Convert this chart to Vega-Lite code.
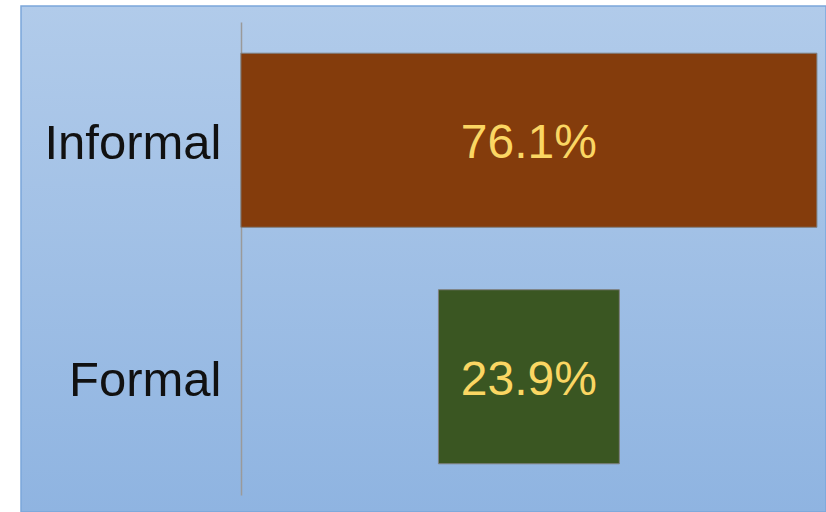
{
  "$schema": "https://vega.github.io/schema/vega-lite/v6.json",
  "autosize": {"type": "none"},
  "padding": {"left": 21, "top": 6, "right": 0, "bottom": 0},
  "width": 805,
  "height": 506,
  "background": "#ffffff",
  "config": {
    "view": {
      "fill": {"gradient": "linear", "x1": 0, "y1": 0, "x2": 0, "y2": 1, "stops": [{"offset": 0, "color": "#b1cbea"}, {"offset": 1, "color": "#8fb4e1"}]},
      "stroke": "#7ba6da",
      "strokeWidth": 1.5
    },
    "font": "Liberation Sans"
  },
  "data": {"values": [
    {"sector": "Informal", "share": 76.1, "label": "76.1%"},
    {"sector": "Formal", "share": 23.9, "label": "23.9%"}
  ]},
  "encoding": {
    "y": {
      "field": "sector", "type": "nominal", "sort": ["Informal", "Formal"],
      "scale": {"range": [16, 489], "paddingInner": 0.264, "paddingOuter": 0.132},
      "axis": {"title": null, "offset": -220, "ticks": false, "domainColor": "#9a9a9a", "domainWidth": 1.5, "labelFontSize": 49, "labelColor": "#111111", "labelPadding": 20, "labelOffset": 4, "labelLimit": 0, "labelFont": "Liberation Sans"}
    }
  },
  "layer": [
    {
      "mark": {"type": "bar", "stroke": "#7f7f7f", "strokeWidth": 1},
      "encoding": {
        "x": {"field": "share", "type": "quantitative", "stack": "center", "scale": {"domain": [-29.05, 77.3], "nice": false, "zero": false}, "axis": null},
        "color": {"field": "sector", "type": "nominal", "scale": {"domain": ["Informal", "Formal"], "range": ["#843c0c", "#3a5622"]}, "legend": null}
      }
    },
    {
      "mark": {"type": "text", "fontSize": 48, "color": "#fad663", "align": "center", "baseline": "middle", "dy": 4},
      "encoding": {
        "x": {"datum": 38.05, "type": "quantitative"},
        "text": {"field": "label"}
      }
    }
  ]
}
